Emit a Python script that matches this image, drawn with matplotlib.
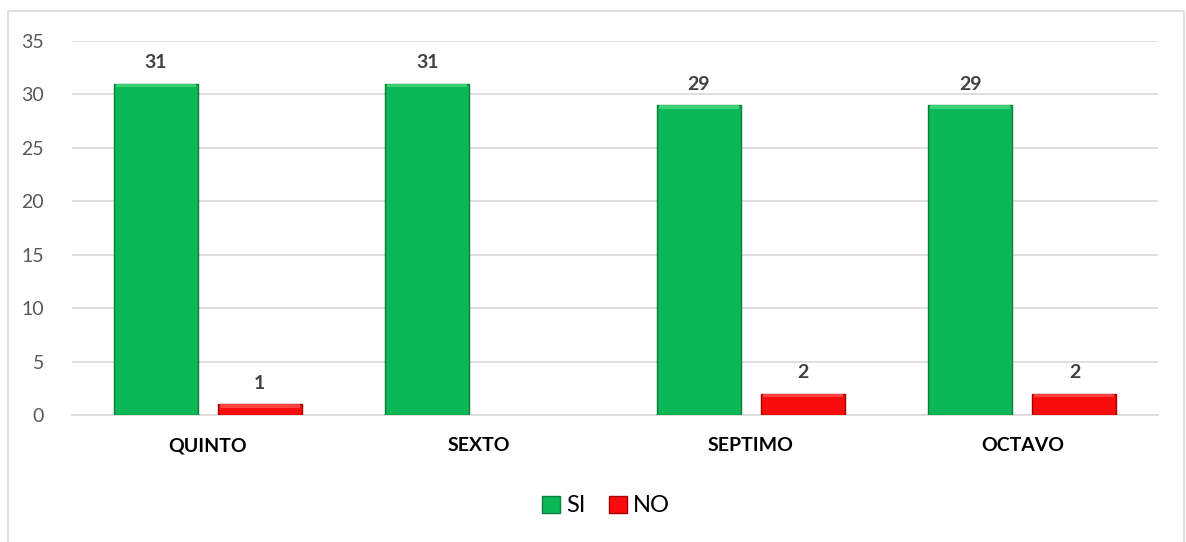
import matplotlib
matplotlib.use("Agg")
import matplotlib.pyplot as plt
from matplotlib.patches import Rectangle
import numpy as np

categories = ["QUINTO", "SEXTO", "SEPTIMO", "OCTAVO"]
si_values = [31, 31, 29, 29]
no_values = [1, 0, 2, 2]
series_names = ["SI", "NO"]
yticks = [0, 5, 10, 15, 20, 25, 30, 35]

plt.rcParams['font.family'] = ['Lato', 'DejaVu Sans']

W, H = 1186, 542
fig = plt.figure(figsize=(W / 100, H / 100), dpi=100)
ax = fig.add_axes([72 / W, 1 - 415 / H, (1158 - 72) / W, (415 - 41) / H])

# outer chart border
fig.patches.append(Rectangle((8 / W, -0.05), (1184 - 8) / W, 1 - 11 / H + 0.05,
                             transform=fig.transFigure, fill=False,
                             edgecolor="#D9D9D9", linewidth=1.2, zorder=0))

x = np.arange(len(categories))
bw = 0.31
off = 0.192
green = "#0BB855"
red = "#F80C0C"
b1 = ax.bar(x - off, si_values, bw, color=green, edgecolor="#087F3A",
            linewidth=[1.0 if v > 0 else 0 for v in si_values],
            zorder=3, label=series_names[0])
b2 = ax.bar(x + off, no_values, bw, color=red, edgecolor="#A80000",
            linewidth=[1.0 if v > 0 else 0 for v in no_values],
            zorder=3, label=series_names[1])

# subtle bevel highlight on top of each bar
for bars, hl in ((b1, "#3FD57A"), (b2, "#FF4A4A")):
    for b in bars:
        h = b.get_height()
        if h <= 0:
            continue
        cap = min(0.35, h * 0.3)
        ax.add_patch(Rectangle((b.get_x() + 0.008, h - cap), b.get_width() - 0.016, cap,
                               facecolor=hl, edgecolor="none", zorder=4, alpha=0.9))

for bars, vals in ((b1, si_values), (b2, no_values)):
    for b, v in zip(bars, vals):
        if v == 0:
            continue
        ax.annotate(str(v), (b.get_x() + b.get_width() / 2, v), xytext=(0, 9),
                    textcoords="offset points", ha="center", va="bottom",
                    fontsize=14, fontweight="bold", color="#404040")

ax.set_ylim(0, 35)
ax.set_xlim(-0.5, len(categories) - 0.5)
ax.set_yticks(yticks)
ax.set_yticklabels([str(t) for t in yticks], fontsize=14, color="#595959")
ax.set_xticks(x)
ax.set_xticklabels(categories, fontsize=14, fontweight="bold", color="#000000")
ax.tick_params(axis="both", length=0)
ax.tick_params(axis="y", pad=20)
ax.tick_params(axis="x", pad=16)
ax.grid(axis="y", color="#D9D9D9", linewidth=1.2, zorder=0)
ax.set_axisbelow(True)
for s in ["top", "right", "left"]:
    ax.spines[s].set_visible(False)
ax.spines["bottom"].set_color("#D9D9D9")
ax.spines["bottom"].set_linewidth(1.2)

fig.legend(handles=[b1, b2], labels=series_names, loc="center",
           bbox_to_anchor=(606 / W, 1 - 506 / H), ncol=2, frameon=False,
           fontsize=17, handlelength=0.75, handleheight=0.75, handletextpad=0.25,
           columnspacing=1.0)

fig.savefig("out.png", dpi=100)
